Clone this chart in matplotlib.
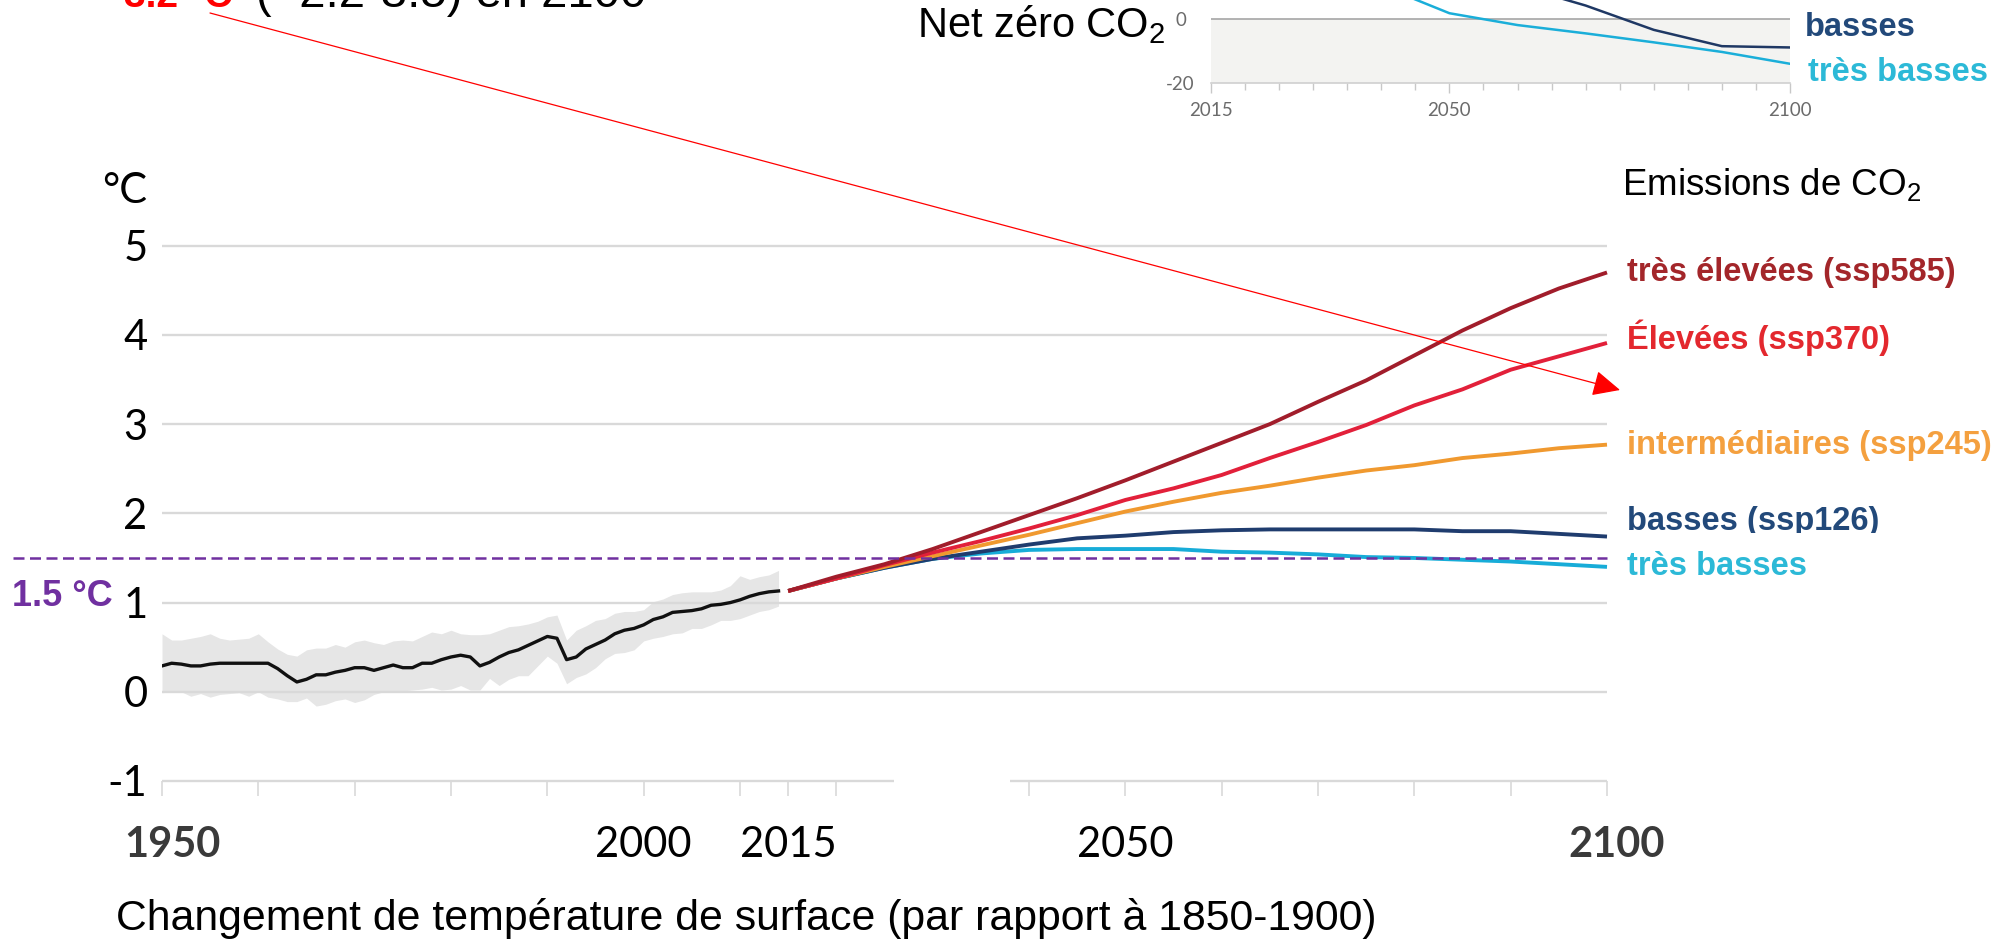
import matplotlib
matplotlib.use("Agg")
import matplotlib.pyplot as plt
from matplotlib.patches import FancyArrowPatch
from matplotlib.transforms import Bbox, TransformedBbox

plt.rcParams['font.family'] = ['Liberation Sans', 'DejaVu Sans']
plt.rcParams['mathtext.default'] = 'regular'

W, H = 1998, 939

# ---------------- data ----------------
hist_years = list(range(1950, 2015))
hist_mean = [0.29, 0.32, 0.31, 0.29, 0.29, 0.31, 0.32, 0.32, 0.32, 0.32,
             0.32, 0.32, 0.26, 0.18, 0.11, 0.14, 0.19, 0.19, 0.22, 0.24,
             0.27, 0.27, 0.24, 0.27, 0.30, 0.27, 0.27, 0.32, 0.32, 0.36,
             0.39, 0.41, 0.39, 0.29, 0.33, 0.39, 0.44, 0.47, 0.52, 0.57,
             0.62, 0.60, 0.36, 0.39, 0.48, 0.53, 0.58, 0.65, 0.69, 0.71,
             0.75, 0.81, 0.84, 0.89, 0.90, 0.91, 0.93, 0.97, 0.98, 1.00,
             1.03, 1.07, 1.10, 1.12, 1.13]
hist_high = [0.65, 0.58, 0.58, 0.60, 0.62, 0.65, 0.60, 0.58, 0.59, 0.60,
             0.65, 0.56, 0.48, 0.42, 0.40, 0.47, 0.49, 0.49, 0.53, 0.50,
             0.56, 0.58, 0.55, 0.53, 0.57, 0.58, 0.57, 0.62, 0.67, 0.65,
             0.69, 0.65, 0.64, 0.64, 0.65, 0.69, 0.73, 0.74, 0.76, 0.79,
             0.84, 0.86, 0.58, 0.69, 0.74, 0.80, 0.82, 0.88, 0.90, 0.90,
             0.92, 1.01, 1.04, 1.09, 1.11, 1.12, 1.12, 1.12, 1.14, 1.19,
             1.30, 1.26, 1.29, 1.31, 1.36]
hist_low = [-0.01, 0.00, 0.00, -0.05, -0.02, -0.06, -0.03, -0.02, -0.01, -0.05,
            0.00, -0.06, -0.08, -0.11, -0.11, -0.07, -0.16, -0.14, -0.10, -0.08,
            -0.12, -0.09, -0.03, 0.00, 0.01, 0.01, 0.02, 0.03, 0.05, 0.02,
            0.03, 0.07, 0.02, 0.02, 0.15, 0.07, 0.14, 0.18, 0.18, 0.29,
            0.40, 0.32, 0.09, 0.16, 0.20, 0.27, 0.37, 0.43, 0.44, 0.47,
            0.57, 0.60, 0.62, 0.65, 0.66, 0.71, 0.71, 0.75, 0.80, 0.80,
            0.82, 0.86, 0.90, 0.92, 0.96]

proj_years = list(range(2015, 2101, 5))
ssp585 = [1.13, 1.29, 1.43, 1.60, 1.79, 1.98, 2.17, 2.37, 2.58, 2.79,
          3.00, 3.25, 3.49, 3.77, 4.05, 4.30, 4.52, 4.70]
ssp370 = [1.13, 1.27, 1.42, 1.56, 1.69, 1.83, 1.98, 2.15, 2.28, 2.43,
          2.62, 2.80, 2.99, 3.21, 3.39, 3.61, 3.76, 3.91]
ssp245 = [1.13, 1.27, 1.40, 1.52, 1.64, 1.76, 1.89, 2.02, 2.13, 2.23,
          2.31, 2.40, 2.48, 2.54, 2.62, 2.67, 2.73, 2.77]
ssp126 = [1.13, 1.27, 1.39, 1.49, 1.57, 1.65, 1.72, 1.75, 1.79, 1.81,
          1.82, 1.82, 1.82, 1.82, 1.80, 1.80, 1.77, 1.74]
ssp119 = [1.13, 1.27, 1.39, 1.49, 1.55, 1.59, 1.60, 1.60, 1.60, 1.57,
          1.56, 1.54, 1.51, 1.50, 1.48, 1.46, 1.43, 1.40]

threshold = 1.5

# CO2 emissions (GtCO2/yr) for the low scenarios, inset
co2_years = [2015, 2020, 2030, 2040, 2050, 2060, 2070, 2080, 2090, 2100]
co2_ssp126 = [39.2, 39.8, 34.7, 26.5, 17.9, 10.5, 4.3, -3.3, -8.4, -8.8]
co2_ssp119 = [39.2, 39.8, 22.8, 10.5, 1.9, -1.8, -4.4, -7.2, -10.2, -13.9]

y_ticks = [-1, 0, 1, 2, 3, 4, 5]
x_ticks = [1950, 1960, 1970, 1980, 1990, 2000, 2010, 2015, 2020,
           2040, 2050, 2060, 2070, 2080, 2090, 2100]
x_labels = [1950, 2000, 2015, 2050, 2100]

scenarios = [
    ("ssp119", ssp119, "#17acd8", "très basses", "#2cb9d7", 575),
    ("ssp126", ssp126, "#1f3c6e", "basses (ssp126)", "#22497a", 530),
    ("ssp245", ssp245, "#f0992f", "intermédiaires (ssp245)", "#f4a03f", 454),
    ("ssp370", ssp370, "#e2203a", "Élevées (ssp370)", "#e3282e", 349),
    ("ssp585", ssp585, "#a11d2b", "très élevées (ssp585)", "#a3262a", 281),
]

GRID = "#d9d9d9"
PURPLE = "#7030a0"

fig = plt.figure(figsize=(W / 100, H / 100), dpi=100)


def ftext(x, y, s, **kw):
    """Place text using pixel coordinates measured from the top-left corner."""
    return fig.text(x / W, 1 - y / H, s, **kw)


# ---------------- main temperature chart ----------------
ax = fig.add_axes([162 / W, 1 - 781 / H, 1445 / W, (781 - 245.7) / H])
ax.set_xlim(1950, 2100)
ax.set_ylim(-1, 5)
ax.patch.set_visible(False)
for s in ax.spines.values():
    s.set_visible(False)

for v in y_ticks[1:]:
    ax.hlines(v, 1950, 2100, color=GRID, lw=1.7, zorder=1.5, clip_on=False)
for a, b in [(1950, 2026), (2038, 2100)]:
    ax.hlines(-1, a, b, color=GRID, lw=1.7, zorder=1.5, clip_on=False)

ax.fill_between(hist_years, hist_low, hist_high, color="#e6e6e6", lw=0, zorder=1)
ax.plot(hist_years, hist_mean, color="#111111", lw=2.4, zorder=3,
        solid_joinstyle="round")

for key, vals, col, *_ in scenarios:
    ax.plot(proj_years, vals, color=col, lw=2.8, zorder=4, clip_on=False,
            solid_capstyle="butt")

ax.plot([1934.5, 2100], [threshold, threshold], color=PURPLE, lw=1.8,
        ls=(0, (4.4, 2.2)), zorder=5, clip_on=False)

ax.set_xticks(x_ticks)
ax.tick_params(axis="x", direction="out", length=11, width=1.2, color=GRID,
               labelbottom=False)
ax.set_yticks(y_ticks)
ax.set_yticklabels([str(v) for v in y_ticks])
ax.tick_params(axis="y", length=0, pad=10.5, labelsize=30, labelcolor="black")
for lab in ax.get_yticklabels():
    lab.set_family("Lato")

for yr in x_labels:
    bold = yr in (1950, 2100)
    ax.annotate(str(yr), xy=(yr, -1), xytext=(7.2 if bold else 0, -54.5),
                textcoords="offset points", ha="center", va="baseline",
                fontsize=30, family="Lato",
                fontweight="bold" if bold else "normal",
                color="#3a3a3a" if bold else "black", annotation_clip=False)

ftext(147, 203, "°C", ha="right", va="baseline", fontsize=30, family="Lato")
ftext(12, 606, "1.5 °C", ha="left", va="baseline", fontsize=26,
      fontweight="bold", color=PURPLE)
ftext(116, 930, "Changement de température de surface (par rapport à 1850-1900)",
      ha="left", va="baseline", fontsize=30.8, color="black")
ftext(1622, 195, "Emissions de CO$_2$", ha="left", va="baseline",
      fontsize=26.5, color="black")

for key, vals, col, label, lcol, base in scenarios:
    t = ftext(1627, base, label, ha="left", va="baseline", fontsize=23.5,
              fontweight="bold", color=lcol)
    if key == "ssp126":
        t.set_clip_on(True)
        t.set_clip_box(TransformedBbox(Bbox([[0, 1 - 533 / H], [1, 1]]),
                                       fig.transFigure))

# headline and arrow pointing at the intermediate scenario
ftext(124, 7, "3.2 °C", ha="left", va="baseline", fontsize=28,
      fontweight="bold", color="#ff0000")
ftext(256, 7, "(~2.2-3.5) en 2100", ha="left", va="baseline", fontsize=34,
      color="black")
arrow = FancyArrowPatch((210 / W, 1 - 13 / H), (1620 / W, 1 - 390 / H),
                        transform=fig.transFigure,
                        arrowstyle="-|>,head_length=17,head_width=8",
                        color="#ff0000", lw=0.9, mutation_scale=1,
                        shrinkA=0, shrinkB=0, zorder=10)
fig.add_artist(arrow)

# ---------------- inset: CO2 emissions ----------------
ax2 = fig.add_axes([1211 / W, 1 - 83.3 / H, (1790 - 1211) / W, 65 * 3.2 / H])
ax2.set_xlim(2015, 2100)
ax2.set_ylim(-20, 45)
ax2.patch.set_visible(False)
for name, s in ax2.spines.items():
    s.set_visible(name == "bottom")
ax2.spines["bottom"].set_color("#d0d0d0")
ax2.spines["bottom"].set_linewidth(1.2)
ax2.axhspan(-20, 0, color="#f3f3f1", lw=0, zorder=0)
ax2.axhline(0, color="#a6a6a6", lw=1.2, zorder=1)
ax2.plot(co2_years, co2_ssp126, color="#1f3864", lw=1.8, zorder=3)
ax2.plot(co2_years, co2_ssp119, color="#1aaed9", lw=1.8, zorder=3)
ax2.set_xticks([2015, 2050, 2100])
ax2.set_xticks(list(range(2015, 2101, 5)), minor=True)
ax2.tick_params(axis="x", which="major", length=7.5, width=1.0, color="#c8c8c8",
                labelsize=13.5, labelcolor="#6b6b6b", pad=6)
ax2.tick_params(axis="x", which="minor", length=5, width=1.0, color="#c8c8c8")
ax2.set_yticks([0, -20])
ax2.set_yticklabels(["0", "-20"])
ax2.tick_params(axis="y", length=0, labelsize=13.5, labelcolor="#6b6b6b", pad=22)
for lab in ax2.get_yticklabels():
    lab.set_family("Lato")
    lab.set_horizontalalignment("center")
for lab in ax2.get_xticklabels():
    lab.set_family("Lato")

ftext(917, 37, "Net zéro CO$_2$", ha="left", va="baseline", fontsize=30,
      color="black")
ftext(1805, 36, "basses", ha="left", va="baseline", fontsize=23.5,
      fontweight="bold", color="#22497a")
ftext(1808, 81, "très basses", ha="left", va="baseline", fontsize=23.5,
      fontweight="bold", color="#2cb9d7")

fig.savefig("out.png", dpi=100)
